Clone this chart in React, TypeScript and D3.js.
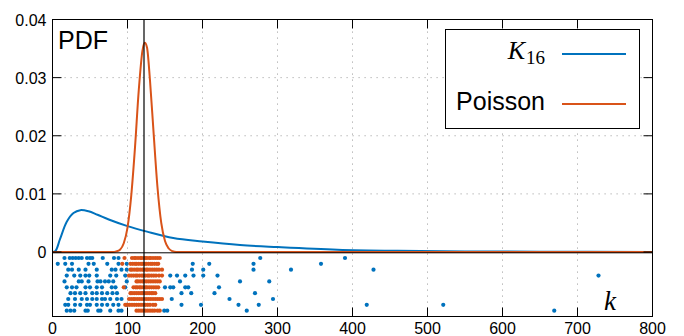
import { useRef, useEffect } from 'react';
import * as d3 from 'd3';

// PDF curves: [k, density]
const k16Curve: [number, number][] = [
  [0, 0], [4, 0.0002], [10, 0.0022], [19, 0.0052], [28, 0.0067], [37, 0.0072],
  [48, 0.007], [60, 0.0064], [75, 0.0056], [99, 0.0045], [126, 0.0035],
  [161, 0.0024], [200, 0.0018], [250, 0.0012], [300, 0.00085], [380, 0.0004],
  [460, 0.0002], [550, 0.0001], [650, 0.00005], [800, 0.00002],
];
const poissonCurve: [number, number][] = [
  [0, 0], [80, 0], [85, 0.0001], [90, 0.0004], [95, 0.0015], [100, 0.0042],
  [105, 0.0097], [110, 0.018], [115, 0.0278], [120, 0.0347], [123, 0.036],
  [126, 0.0352], [130, 0.0295], [135, 0.0201], [140, 0.0111], [145, 0.005],
  [150, 0.0019], [155, 0.0006], [160, 0.00014], [165, 0], [800, 0],
];
const meanK = 122;

// samples, one array per row of the strip under the axis
const k16Samples: number[][] = [
  [16, 23, 27, 31, 35, 39, 46, 50, 53, 67, 82, 88, 277, 390],
  [7, 17, 26, 48, 55, 73, 88, 99, 187, 209, 268, 358],
  [21, 26, 35, 44, 59, 79, 84, 92, 99, 186, 201, 268, 318, 428],
  [19, 29, 37, 44, 49, 59, 77, 85, 97, 157, 166, 177, 188, 201, 220, 728],
  [16, 35, 39, 48, 60, 64, 70, 75, 81, 99, 170, 250, 289],
  [19, 26, 32, 44, 50, 59, 66, 79, 84, 97, 150, 157, 161, 177, 181, 222],
  [24, 30, 37, 44, 53, 59, 66, 73, 80, 86, 172, 185, 216, 270],
  [21, 30, 39, 46, 53, 59, 66, 70, 77, 86, 92, 159, 236, 294],
  [17, 21, 30, 37, 46, 50, 59, 66, 73, 81, 88, 99, 172, 198, 248, 275, 419, 521],
  [19, 24, 29, 44, 47, 61, 64, 77, 88, 92, 149, 153, 259, 669],
];
const poissonSamples: number[][] = [
  [96, 106, 109, 111, 114, 117, 119, 122, 124, 126, 129, 131, 134, 137, 140, 143],
  [93, 104, 107, 110, 112, 115, 118, 120, 123, 125, 128, 131, 133, 136, 139, 141],
  [104, 106, 109, 112, 114, 117, 120, 122, 125, 127, 130, 133, 136, 139, 142, 146],
  [102, 105, 108, 111, 113, 116, 119, 121, 124, 127, 129, 132, 135, 138, 142, 146],
  [112, 114, 117, 120, 122, 125, 128, 131, 134, 137, 140, 143],
  [95, 108, 111, 113, 116, 118, 121, 124, 126, 129, 132, 135, 138, 141],
  [104, 106, 109, 112, 115, 118, 120, 123, 126, 129, 132, 134, 137],
  [102, 105, 108, 110, 113, 116, 119, 122, 125, 128, 131, 134, 137, 140, 143, 146],
  [97, 100, 103, 106, 109, 112, 115, 118, 121, 124, 127, 130, 134, 137],
  [112, 115, 118, 121, 124, 127, 130, 133, 136, 140, 143],
];

const xTicks = [0, 100, 200, 300, 400, 500, 600, 700, 800];
const yTicks = [0, 0.01, 0.02, 0.03, 0.04];

const BLUE = '#0072bd';
const ORANGE = '#d95319';
const SANS = '"Liberation Sans", Arial, sans-serif';
const SERIF = '"Liberation Serif", "Times New Roman", serif';

export default function App() {
  const ref = useRef<SVGSVGElement>(null);

  useEffect(() => {
    document.body.style.margin = '0';
    const svg = d3.select(ref.current);
    svg.selectAll('*').remove();

    const L = 52.5, R = 652.5, T = 19.5, B = 316.5;
    const x = d3.scaleLinear().domain([0, 800]).range([L, R]);
    const y = d3.scaleLinear().domain([0, 0.04]).range([252, T]);
    const row = d3.scaleLinear().domain([0, 9]).range([258, 310.7]);

    // dotted grid
    const grid = svg.append('g').attr('stroke', '#a8a8a8').attr('stroke-width', 1)
      .attr('stroke-dasharray', '1.2,4.8');
    xTicks.slice(1, -1).forEach(t => {
      grid.append('line').attr('x1', x(t)).attr('x2', x(t)).attr('y1', T).attr('y2', B);
    });
    yTicks.slice(1, -1).forEach(t => {
      grid.append('line').attr('x1', L).attr('x2', R).attr('y1', y(t)).attr('y2', y(t));
    });

    // sample strip
    const dots = svg.append('g');
    k16Samples.forEach((r, i) => r.forEach(v => {
      dots.append('circle').attr('cx', x(v)).attr('cy', row(i)).attr('r', 2.1).attr('fill', BLUE);
    }));
    poissonSamples.forEach((r, i) => r.forEach(v => {
      dots.append('circle').attr('cx', x(v)).attr('cy', row(i)).attr('r', 2.1).attr('fill', ORANGE);
    }));

    // curves
    const smooth = d3.line<[number, number]>().x(d => x(d[0])).y(d => y(d[1]))
      .curve(d3.curveCatmullRom.alpha(0.5));
    const mono = d3.line<[number, number]>().x(d => x(d[0])).y(d => y(d[1])).curve(d3.curveMonotoneX);
    svg.append('path').datum(k16Curve).attr('fill', 'none').attr('stroke', BLUE)
      .attr('stroke-width', 2).attr('d', smooth);
    svg.append('path').datum(poissonCurve).attr('fill', 'none').attr('stroke', ORANGE)
      .attr('stroke-width', 2).attr('d', mono);

    // zero line and mean marker
    svg.append('line').attr('x1', L).attr('x2', R).attr('y1', y(0) + 0.8).attr('y2', y(0) + 0.8)
      .attr('stroke', '#000').attr('stroke-width', 1);
    svg.append('line').attr('x1', x(meanK)).attr('x2', x(meanK)).attr('y1', T).attr('y2', B)
      .attr('stroke', '#000').attr('stroke-width', 1.2);

    // frame and inward ticks
    svg.append('rect').attr('x', L).attr('y', T).attr('width', R - L).attr('height', B - T)
      .attr('fill', 'none').attr('stroke', '#000').attr('stroke-width', 1);
    const ticks = svg.append('g').attr('stroke', '#000').attr('stroke-width', 1);
    xTicks.slice(1, -1).forEach(t => {
      ticks.append('line').attr('x1', x(t)).attr('x2', x(t)).attr('y1', B).attr('y2', B - 9);
      ticks.append('line').attr('x1', x(t)).attr('x2', x(t)).attr('y1', T).attr('y2', T + 9);
    });
    yTicks.slice(0, -1).forEach(t => {
      ticks.append('line').attr('x1', L).attr('x2', L + 9).attr('y1', y(t)).attr('y2', y(t));
      ticks.append('line').attr('x1', R).attr('x2', R - 9).attr('y1', y(t)).attr('y2', y(t));
    });

    // tick labels
    svg.append('g').selectAll('text').data(xTicks).join('text')
      .attr('x', d => x(d)).attr('y', 334).attr('text-anchor', 'middle')
      .attr('font-family', SANS).attr('font-size', 16).text(d => d);
    svg.append('g').selectAll('text').data(yTicks).join('text')
      .attr('x', 46.5).attr('y', d => y(d) + 6).attr('text-anchor', 'end')
      .attr('font-family', SANS).attr('font-size', 16).text(d => (d === 0 ? '0' : d3.format('.2f')(d)));

    svg.append('text').attr('x', 58).attr('y', 48.5).attr('font-family', SANS)
      .attr('font-size', 25).text('PDF');
    svg.append('text').attr('x', 604).attr('y', 310).attr('font-family', SERIF)
      .attr('font-style', 'italic').attr('font-size', 27).text('k');

    // legend
    const lg = svg.append('g');
    lg.append('rect').attr('x', 445.5).attr('y', 29.5).attr('width', 194).attr('height', 99)
      .attr('fill', '#fff').attr('stroke', '#000').attr('stroke-width', 1);
    const kt = lg.append('text').attr('x', 545).attr('y', 59).attr('text-anchor', 'end')
      .attr('font-family', SERIF);
    kt.append('tspan').attr('font-style', 'italic').attr('font-size', 26).text('K');
    kt.append('tspan').attr('font-size', 19).attr('dy', 5).attr('dx', 1).text('16');
    lg.append('text').attr('x', 545).attr('y', 110).attr('text-anchor', 'end')
      .attr('font-family', SANS).attr('font-size', 25).text('Poisson');
    lg.append('line').attr('x1', 562).attr('x2', 626).attr('y1', 54).attr('y2', 54)
      .attr('stroke', BLUE).attr('stroke-width', 2);
    lg.append('line').attr('x1', 562).attr('x2', 626).attr('y1', 104).attr('y2', 104)
      .attr('stroke', ORANGE).attr('stroke-width', 2);
  }, []);

  return <svg ref={ref} width={684} height={336} style={{ display: 'block', background: '#fff' }} />;
}
